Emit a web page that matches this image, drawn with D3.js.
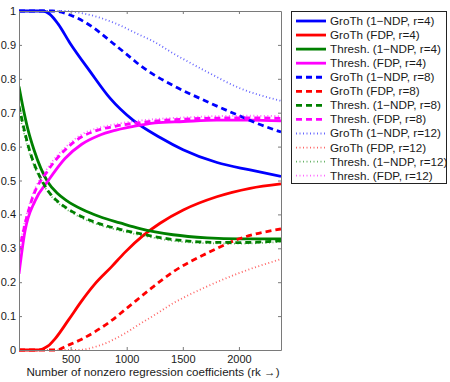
<!DOCTYPE html>
<html>
<head>
<meta charset="utf-8">
<script src="https://cdn.jsdelivr.net/npm/d3@7"></script>
<style>
  body { margin: 0; background: #fff; }
  svg { font-family: "Liberation Sans", Arial, Helvetica, sans-serif; }
</style>
</head>
<body>
<div id="chart"></div>
<script>
// ── Data (x = number of nonzero coefficients, y = rate) ──
const grothNdp4 = [[40,1],[254,1],[316,0.99],[388,0.962],[495,0.905],[673,0.822],[851,0.743],[1056,0.678],[1297,0.627],[1502,0.591],[1805,0.553],[2099,0.531],[2375,0.512]];
const grothFdp4 = [[40,0],[200,0],[250,0.003],[300,0.012],[361,0.033],[480,0.088],[599,0.145],[717,0.195],[866,0.246],[984,0.288],[1148,0.338],[1297,0.374],[1504,0.413],[1802,0.452],[2099,0.477],[2375,0.49]];
const threshNdp4 = [[40,0.777],[76,0.715],[120,0.65],[174,0.59],[236,0.535],[298,0.495],[379,0.463],[468,0.44],[601,0.415],[762,0.393],[940,0.375],[1118,0.358],[1413,0.34],[1716,0.331],[2010,0.328],[2375,0.328]];
const threshFdp4 = [[40,0.225],[93,0.35],[183,0.44],[301,0.5],[450,0.565],[599,0.607],[747,0.632],[896,0.648],[1148,0.665],[1252,0.67],[1504,0.674],[1802,0.678],[2099,0.678],[2375,0.676]];

const grothNdp8 = [[40,1],[340,1],[480,0.99],[643,0.964],[896,0.9],[1044,0.86],[1118,0.84],[1223,0.816],[1415,0.78],[1713,0.733],[2010,0.69],[2159,0.669],[2375,0.643]];
const grothFdp8 = [[40,0],[380,0],[450,0.01],[599,0.032],[836,0.08],[1044,0.135],[1118,0.155],[1223,0.183],[1415,0.231],[1713,0.285],[2010,0.329],[2375,0.357]];
const threshNdp8 = [[40,0.72],[76,0.665],[120,0.605],[174,0.55],[236,0.505],[298,0.47],[379,0.44],[468,0.418],[601,0.393],[762,0.372],[940,0.356],[1118,0.343],[1413,0.326],[1716,0.318],[2010,0.317],[2375,0.322]];
const threshFdp8 = [[40,0.29],[100,0.38],[153,0.442],[301,0.531],[450,0.59],[599,0.629],[747,0.649],[896,0.66],[1148,0.672],[1504,0.681],[1802,0.684],[2099,0.685],[2375,0.683]];

const grothNdp12 = [[40,1],[450,1],[610,0.993],[896,0.964],[1118,0.929],[1223,0.913],[1415,0.875],[1713,0.821],[2010,0.772],[2375,0.735]];
const grothFdp12 = [[40,0],[560,0],[747,0.012],[984,0.049],[1118,0.077],[1223,0.098],[1415,0.138],[1713,0.187],[2010,0.228],[2375,0.268]];
const threshNdp12 = [[40,0.70],[76,0.65],[120,0.595],[174,0.543],[236,0.5],[298,0.466],[379,0.436],[468,0.414],[601,0.389],[762,0.368],[940,0.352],[1118,0.339],[1413,0.322],[1716,0.315],[2010,0.314],[2375,0.319]];
const threshFdp12 = [[40,0.30],[100,0.39],[153,0.45],[301,0.54],[450,0.597],[599,0.636],[747,0.655],[896,0.666],[1148,0.678],[1504,0.686],[1802,0.69],[2099,0.691],[2375,0.69]];

const seriesLabels = [
  'GroTh (1\u2212NDP, r=4)', 'GroTh (FDP, r=4)', 'Thresh. (1\u2212NDP, r=4)', 'Thresh. (FDP, r=4)',
  'GroTh (1\u2212NDP, r=8)', 'GroTh (FDP, r=8)', 'Thresh. (1\u2212NDP, r=8)', 'Thresh. (FDP, r=8)',
  'GroTh (1\u2212NDP, r=12)', 'GroTh (FDP, r=12)', 'Thresh. (1\u2212NDP, r=12)', 'Thresh. (FDP, r=12)'
];
const seriesValues = [
  grothNdp4, grothFdp4, threshNdp4, threshFdp4,
  grothNdp8, grothFdp8, threshNdp8, threshFdp8,
  grothNdp12, grothFdp12, threshNdp12, threshFdp12
];
const xTicks = [500, 1000, 1500, 2000];
const yTicks = [0, 0.1, 0.2, 0.3, 0.4, 0.5, 0.6, 0.7, 0.8, 0.9, 1];
const xLabel = 'Number of nonzero regression coefficients (rk \u2192)';

// ── Styles ──
const colors = ['#0000ff', '#ff0000', '#008000', '#ff00ff'];
const styles = [
  { dash: null, width: 2.8, opacity: 1 },
  { dash: '6,4', width: 2.8, opacity: 1 },
  { dash: '1,2.5', width: 1.8, opacity: 0.6 }
];

const W = 450, H = 382;
const plot = { left: 19, top: 11, right: 281, bottom: 350 };

const svg = d3.select('#chart').append('svg')
  .attr('width', W).attr('height', H);

const x = d3.scaleLinear().domain([40, 2375]).range([plot.left, plot.right]);
const y = d3.scaleLinear().domain([0, 1]).range([plot.bottom, plot.top]);

svg.append('clipPath').attr('id', 'clip')
  .append('rect')
  .attr('x', plot.left).attr('y', plot.top - 2)
  .attr('width', plot.right - plot.left).attr('height', plot.bottom - plot.top + 4);

const lineGen = d3.line()
  .x(d => x(d[0])).y(d => y(d[1]))
  .curve(d3.curveMonotoneX);

// Lines
const lines = svg.append('g').attr('clip-path', 'url(#clip)');
seriesValues.forEach((vals, i) => {
  const st = styles[Math.floor(i / 4)];
  lines.append('path').datum(vals)
    .attr('fill', 'none')
    .attr('stroke', colors[i % 4])
    .attr('stroke-width', st.width)
    .attr('stroke-opacity', st.opacity)
    .attr('stroke-dasharray', st.dash)
    .attr('d', lineGen);
});

// Axes (box with inward ticks)
const axisColor = '#7a7a7a';
const tickLen = 3;

const axBottom = svg.append('g').attr('transform', `translate(0,${plot.bottom})`)
  .call(d3.axisBottom(x).tickValues(xTicks).tickSizeInner(-tickLen).tickSizeOuter(0)
    .tickPadding(5).tickFormat(d3.format('d')));
const axTop = svg.append('g').attr('transform', `translate(0,${plot.top})`)
  .call(d3.axisTop(x).tickValues(xTicks).tickSizeInner(-tickLen).tickSizeOuter(0).tickFormat(''));
const axLeft = svg.append('g').attr('transform', `translate(${plot.left},0)`)
  .call(d3.axisLeft(y).tickValues(yTicks).tickSizeInner(-tickLen).tickSizeOuter(0).tickPadding(3)
    .tickFormat(d => d3.format('~g')(d)));
const axRight = svg.append('g').attr('transform', `translate(${plot.right},0)`)
  .call(d3.axisRight(y).tickValues(yTicks).tickSizeInner(-tickLen).tickSizeOuter(0).tickFormat(''));

[axBottom, axTop, axLeft, axRight].forEach(g => {
  g.selectAll('path, line').attr('stroke', axisColor);
  g.selectAll('text').attr('fill', '#1a1a1a').style('font-size', '11px')
    .style('font-family', '"Liberation Sans", Arial, sans-serif');
});

svg.append('text')
  .attr('x', 153).attr('y', 375.5)
  .attr('text-anchor', 'middle')
  .attr('fill', '#1a1a1a').style('font-size', '11.6px')
  .text(xLabel);

// Legend
const legend = svg.append('g');
legend.append('rect')
  .attr('x', 291.5).attr('y', 11.5).attr('width', 155).attr('height', 172)
  .attr('fill', '#fff').attr('stroke', '#222').attr('stroke-width', 1);

seriesLabels.forEach((label, i) => {
  const st = styles[Math.floor(i / 4)];
  const yy = 21 + i * 14.06;
  legend.append('line')
    .attr('x1', 296).attr('x2', 326).attr('y1', yy).attr('y2', yy)
    .attr('stroke', colors[i % 4])
    .attr('stroke-width', st.width)
    .attr('stroke-opacity', st.opacity)
    .attr('stroke-dasharray', st.dash);
  legend.append('text')
    .attr('x', 330).attr('y', yy + 4)
    .attr('fill', '#1a1a1a').style('font-size', '11.7px')
    .text(label);
});
</script>
</body>
</html>
